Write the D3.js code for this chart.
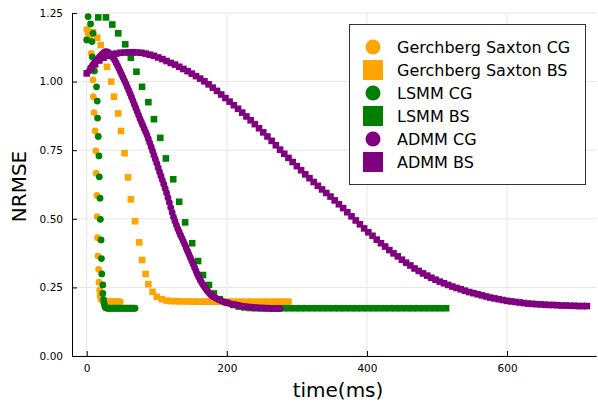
<!DOCTYPE html>
<html>
<head>
<meta charset="utf-8">
<script src="https://cdn.jsdelivr.net/npm/d3@7"></script>
<style>
  html, body { margin: 0; padding: 0; background: #fff; }
  svg { display: block; font-family: "DejaVu Sans", sans-serif; }
</style>
</head>
<body>
<svg id="chart" width="598" height="407"></svg>
<script>
/* ── Data ────────────────────────────────────────────── */
const xTicks = [0, 200, 400, 600];
const yTicks = [0, 0.25, 0.5, 0.75, 1.0, 1.25];
const yTickLabels = ['0.00', '0.25', '0.50', '0.75', '1.00', '1.25'];

const seriesNames = ['Gerchberg Saxton CG', 'Gerchberg Saxton BS', 'LSMM CG', 'LSMM BS', 'ADMM CG', 'ADMM BS'];

const gsCgX = [0, 2, 4, 6.5, 9, 9.5, 10.5, 12, 13, 13.5, 14.5, 15, 15.5, 16, 17, 17.5, 18.5, 19, 20, 21, 22,
  24, 26, 28, 30, 32, 34, 36, 38, 40, 42, 44, 46, 48];
const gsCgY = [1.19, 1.175, 1.16, 1.103, 1.006, 0.945, 0.887, 0.82, 0.747, 0.666, 0.585, 0.508, 0.431, 0.364, 0.316, 0.269, 0.24, 0.22, 0.21, 0.205, 0.202,
  0.199, 0.198, 0.198, 0.198, 0.198, 0.198, 0.198, 0.198, 0.198, 0.198, 0.198, 0.198, 0.198];

const gsBsX = [9, 15, 20, 24, 29, 35, 39, 45, 49, 54, 59, 63, 69, 75, 79, 84, 88, 94, 100, 107, 114,
  120, 126, 132, 138, 144, 150, 156, 162, 168, 174, 180, 186, 192, 198, 204, 210, 216, 222, 228, 234,
  240, 246, 252, 258, 264, 270, 276, 282, 288];
const gsBsY = [1.18, 1.16, 1.133, 1.095, 1.054, 1.0, 0.945, 0.884, 0.82, 0.739, 0.651, 0.571, 0.491, 0.414, 0.35, 0.299, 0.262, 0.234, 0.216, 0.207, 0.202,
  0.2, 0.2, 0.199, 0.199, 0.199, 0.198, 0.198, 0.198, 0.198, 0.198, 0.198, 0.198, 0.198, 0.198, 0.198, 0.198, 0.198, 0.198, 0.198, 0.198,
  0.198, 0.198, 0.198, 0.198, 0.198, 0.198, 0.198, 0.198, 0.198];

const lsmmCgX = [2, 5.5, 9, 0, 7.5, 8, 11, 14, 15, 15.5, 16.5, 17.5, 18, 19, 19.5, 20.5, 21, 21.5, 23, 23, 24, 25, 26, 27,
  29, 31, 33, 35, 37, 39, 41, 43, 45, 47, 49, 51, 53, 55, 57, 59, 61, 63, 65, 67, 69];
const lsmmCgY = [1.237, 1.21, 1.176, 1.152, 1.146, 1.09, 1.039, 0.981, 0.929, 0.867, 0.8, 0.729, 0.653, 0.575, 0.498, 0.423, 0.355, 0.299, 0.259, 0.228, 0.205, 0.19, 0.18, 0.176,
  0.174, 0.174, 0.174, 0.174, 0.174, 0.174, 0.174, 0.174, 0.174, 0.174, 0.174, 0.174, 0.174, 0.174, 0.174, 0.174, 0.174, 0.174, 0.174, 0.174, 0.174];

const lsmmBsX = [16.5, 27.5, 36.5, 45, 55, 63, 71, 79, 88, 96, 105, 113, 123.5, 132, 140.5, 150.5, 159, 166, 174.5, 181.5, 190, 200, 209,
  217, 225, 233, 241, 249, 257, 265, 273, 281, 289, 297, 305, 313, 321, 329, 337, 345, 353, 361, 369,
  377, 385, 393, 401, 409, 417, 425, 433, 441, 449, 457, 465, 473, 481, 489, 497, 505, 513];
const lsmmBsY = [1.234, 1.234, 1.208, 1.176, 1.136, 1.087, 1.036, 0.981, 0.925, 0.863, 0.795, 0.72, 0.644, 0.562, 0.487, 0.411, 0.346, 0.295, 0.259, 0.228, 0.207, 0.194, 0.186,
  0.18, 0.177, 0.175, 0.174, 0.174, 0.174, 0.174, 0.174, 0.174, 0.174, 0.174, 0.174, 0.174, 0.174, 0.174, 0.174, 0.174, 0.174, 0.174, 0.174,
  0.174, 0.174, 0.174, 0.174, 0.174, 0.174, 0.174, 0.174, 0.174, 0.174, 0.174, 0.174, 0.174, 0.174, 0.174, 0.174, 0.174, 0.174];

const admmCgX = [4, 6, 8, 10, 12, 14, 16, 18, 20, 22, 24, 26, 28, 30, 32, 34, 36, 38, 40, 42,
  44, 46, 48, 50, 52, 54, 56, 58, 60, 62, 64, 66, 68, 70, 72, 74, 76, 78, 80, 82,
  84, 86, 88, 90, 92, 94, 96, 98, 100, 102, 104, 106, 108, 110, 112, 114, 116, 118, 120, 122,
  124, 126, 128, 130, 132, 134, 136, 138, 140, 142, 144, 146, 148, 150, 152, 154, 156, 158, 160, 162,
  164, 166, 168, 170, 172, 174, 176, 178, 180,
  184, 188, 192, 196, 200, 204, 208, 212, 216, 220, 224, 228, 232, 236, 240, 244, 248, 252, 256, 260, 264, 268, 272, 276];
const admmCgY = [1.040, 1.050, 1.058, 1.065, 1.071, 1.077, 1.083, 1.089, 1.095, 1.100,
  1.105, 1.108, 1.109, 1.107, 1.104, 1.099, 1.093, 1.086, 1.078, 1.068,
  1.058, 1.047, 1.036, 1.025, 1.014, 1.003, 0.992, 0.980, 0.968, 0.956,
  0.943, 0.930, 0.917, 0.904, 0.891, 0.878, 0.865, 0.853, 0.841, 0.829,
  0.817, 0.805, 0.791, 0.777, 0.762, 0.747, 0.732, 0.717, 0.702, 0.686,
  0.671, 0.656, 0.641, 0.626, 0.610, 0.594, 0.577, 0.559, 0.541, 0.523,
  0.506, 0.491, 0.477, 0.464, 0.452, 0.440, 0.429, 0.418, 0.406, 0.394,
  0.382, 0.370, 0.358, 0.346, 0.334, 0.322, 0.310, 0.298, 0.287, 0.277,
  0.268, 0.260, 0.252, 0.245, 0.238, 0.232, 0.226, 0.221, 0.217,
  0.211, 0.206, 0.201, 0.197, 0.194, 0.191, 0.189, 0.187, 0.185, 0.183, 0.181, 0.180,
  0.179, 0.178, 0.177, 0.176, 0.175, 0.175, 0.174, 0.174, 0.173, 0.173, 0.173, 0.173];

const admmBsX = [0, 6, 12, 18, 24, 30, 36, 42, 48, 54, 60, 66, 72, 78, 84, 90, 96, 102, 108, 114,
  120, 126, 132, 138, 144, 150, 156, 162, 168, 174, 180, 186, 192, 198, 204, 210, 216, 222, 228, 234,
  240, 246, 252, 258, 264, 270, 276, 282, 288, 294, 300, 306, 312, 318, 324, 330, 336, 342, 348, 354,
  360, 366, 372, 378, 384, 390, 396, 402, 408, 414, 420, 426, 432, 438, 444, 450, 456, 462, 468, 474,
  480, 486, 492, 498, 504, 510, 516, 522, 528, 534, 540, 546, 552, 558, 564, 570, 576, 582, 588, 594,
  600, 606, 612, 618, 624, 630, 636, 642, 648, 654, 660, 666, 672, 678, 684, 690, 696, 702, 708, 714];
const admmBsY = [1.030, 1.047, 1.063, 1.077, 1.087, 1.094, 1.099, 1.102, 1.105, 1.106, 1.107, 1.107, 1.106, 1.105, 1.102, 1.098, 1.094, 1.088, 1.082, 1.075,
  1.068, 1.062, 1.054, 1.046, 1.038, 1.029, 1.020, 1.011, 1.001, 0.990, 0.978, 0.966, 0.953, 0.940, 0.927, 0.914, 0.901, 0.887, 0.873, 0.859,
  0.845, 0.830, 0.815, 0.800, 0.784, 0.768, 0.752, 0.737, 0.722, 0.707, 0.692, 0.677, 0.662, 0.648, 0.634, 0.620, 0.607, 0.594, 0.581, 0.567,
  0.553, 0.539, 0.524, 0.509, 0.494, 0.480, 0.465, 0.451, 0.438, 0.424, 0.411, 0.399, 0.386, 0.374, 0.363, 0.351, 0.340, 0.330, 0.319, 0.310,
  0.301, 0.293, 0.285, 0.278, 0.271, 0.265, 0.259, 0.253, 0.248, 0.243, 0.238, 0.233, 0.229, 0.225, 0.221, 0.217, 0.213, 0.210, 0.207, 0.204,
  0.201, 0.199, 0.197, 0.195, 0.193, 0.191, 0.190, 0.189, 0.188, 0.187, 0.186, 0.186, 0.185, 0.184, 0.184, 0.183, 0.183, 0.182, 0.182, 0.182];

/* ── Series table (data + style) ─────────────────────── */
const zip = (xs, ys) => xs.map((x, i) => ({ x, y: ys[i] }));
const series = [
  { name: seriesNames[0], color: '#ffa500', shape: 'circle', pts: zip(gsCgX, gsCgY) },
  { name: seriesNames[1], color: '#ffa500', shape: 'square', pts: zip(gsBsX, gsBsY) },
  { name: seriesNames[2], color: '#008000', shape: 'circle', pts: zip(lsmmCgX, lsmmCgY) },
  { name: seriesNames[3], color: '#008000', shape: 'square', pts: zip(lsmmBsX, lsmmBsY) },
  { name: seriesNames[4], color: '#800080', shape: 'circle', pts: zip(admmCgX, admmCgY) },
  { name: seriesNames[5], color: '#800080', shape: 'square', pts: zip(admmBsX, admmBsY) },
];

/* ── Layout ──────────────────────────────────────────── */
const svg = d3.select('#chart');
const L = 72, R = 596, T = 13, B = 356;

const x = d3.scaleLinear().domain([-21, 727]).range([L, R]);
const y = d3.scaleLinear().domain([0, 1.25]).range([B, T]);

// Grid lines
const grid = svg.append('g');
grid.selectAll('line.gx').data(xTicks).join('line')
  .attr('x1', d => x(d)).attr('x2', d => x(d))
  .attr('y1', T).attr('y2', B)
  .attr('stroke', '#e6e6e6').attr('stroke-width', 1);
grid.selectAll('line.gy').data(yTicks).join('line')
  .attr('x1', L).attr('x2', R)
  .attr('y1', d => y(d)).attr('y2', d => y(d))
  .attr('stroke', '#e6e6e6').attr('stroke-width', 1);

// Axes
const xAxis = svg.append('g').attr('transform', `translate(0,${B})`)
  .call(d3.axisBottom(x).tickValues(xTicks).tickSizeInner(-5).tickSizeOuter(0).tickPadding(9));
const yAxis = svg.append('g').attr('transform', `translate(${L},0)`)
  .call(d3.axisLeft(y).tickValues(yTicks).tickFormat((d, i) => yTickLabels[i])
    .tickSizeInner(-5).tickSizeOuter(0).tickPadding(9));

[xAxis, yAxis].forEach(a => {
  a.select('.domain').attr('stroke', '#000').attr('stroke-width', 1);
  a.selectAll('.tick line').attr('stroke', '#000');
  a.selectAll('.tick text').attr('fill', '#000')
    .style('font-family', '"DejaVu Sans", sans-serif').style('font-size', '10.5px');
});

// Axis titles
svg.append('text')
  .attr('x', (L + R) / 2 + 4).attr('y', 397)
  .attr('text-anchor', 'middle')
  .style('font-size', '20px')
  .text('time(ms)');
svg.append('text')
  .attr('transform', `translate(26,${(T + B) / 2 + 2}) rotate(-90)`)
  .attr('text-anchor', 'middle')
  .style('font-size', '20px')
  .text('NRMSE');

/* ── Markers ─────────────────────────────────────────── */
const plot = svg.append('g');
const MR = 3.4;   // circle radius
const MS = 6.6;   // square side

series.forEach(s => {
  const g = plot.append('g').attr('fill', s.color);
  if (s.shape === 'circle') {
    g.selectAll('circle').data(s.pts).join('circle')
      .attr('cx', d => x(d.x)).attr('cy', d => y(d.y)).attr('r', MR);
  } else {
    g.selectAll('rect').data(s.pts).join('rect')
      .attr('x', d => x(d.x) - MS / 2).attr('y', d => y(d.y) - MS / 2)
      .attr('width', MS).attr('height', MS);
  }
});

/* ── Legend ──────────────────────────────────────────── */
const leg = svg.append('g');
leg.append('rect')
  .attr('x', 349.5).attr('y', 24.5).attr('width', 236).attr('height', 160)
  .attr('fill', '#fff').attr('stroke', '#333').attr('stroke-width', 1);

const rows = leg.selectAll('g.row').data(series).join('g')
  .attr('transform', (d, i) => `translate(373,${47 + i * 23})`);
rows.filter(d => d.shape === 'circle').append('circle')
  .attr('r', 7.5).attr('fill', d => d.color);
rows.filter(d => d.shape === 'square').append('rect')
  .attr('x', -10).attr('y', -10).attr('width', 20).attr('height', 20)
  .attr('fill', d => d.color);
rows.append('text')
  .attr('x', 24).attr('y', 6)
  .style('font-size', '16px')
  .text(d => d.name);
</script>
</body>
</html>
